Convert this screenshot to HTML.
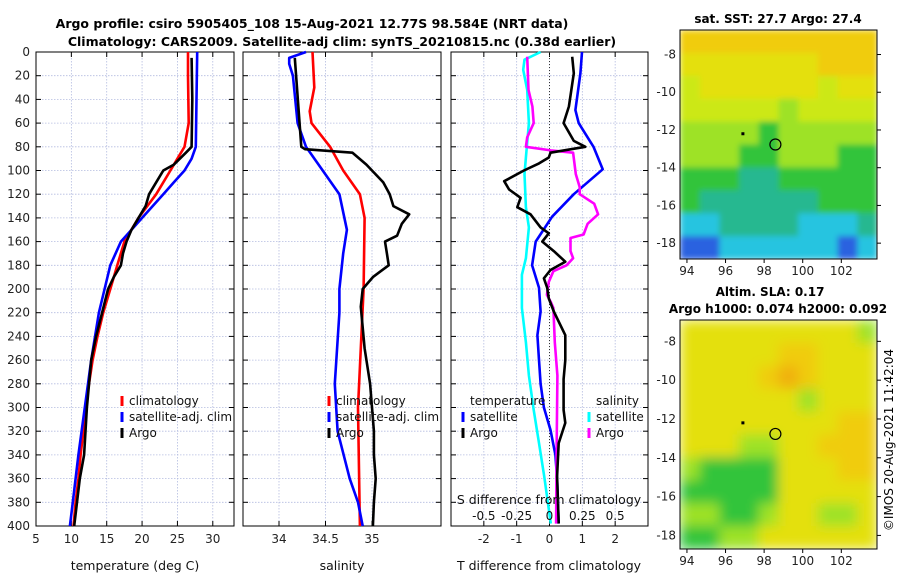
<!DOCTYPE html>
<html><head><meta charset="utf-8">
<style>
html,body{margin:0;padding:0;background:#fff;}
svg{display:block;font-family:"DejaVu Sans","Liberation Sans",sans-serif;}
</style></head>
<body>
<svg id="fig" width="900" height="580" viewBox="0 0 900 580" xmlns="http://www.w3.org/2000/svg">
<defs>
<filter id="blur" x="0" y="0" width="1" height="1"><feGaussianBlur stdDeviation="6"/></filter>
<filter id="blur2" x="0" y="0" width="1" height="1"><feGaussianBlur stdDeviation="3"/></filter>
<clipPath id="clipSst"><rect x="680" y="30" width="197" height="229"/></clipPath>
<clipPath id="clipSla"><rect x="680" y="320" width="197" height="229"/></clipPath>
</defs>
<text x="312" y="28" font-size="12.5" font-weight="bold" text-anchor="middle">Argo profile: csiro 5905405_108 15-Aug-2021 12.77S 98.584E (NRT data)</text>
<text x="342" y="46" font-size="12.5" font-weight="bold" text-anchor="middle">Climatology: CARS2009. Satellite-adj clim: synTS_20210815.nc (0.38d earlier)</text>
<text x="778" y="23" font-size="12" font-weight="bold" text-anchor="middle">sat. SST: 27.7 Argo: 27.4</text>
<text x="770" y="296" font-size="12" font-weight="bold" text-anchor="middle">Altim. SLA: 0.17</text>
<text x="778" y="313" font-size="12" font-weight="bold" text-anchor="middle">Argo h1000: 0.074 h2000: 0.092</text>
<text transform="translate(893,440) rotate(-90)" font-size="12" text-anchor="middle">©IMOS 20-Aug-2021 11:42:04</text>
<g id="layer"></g>
</svg>
<script>
// ---- depth axis ----
const depthTicks = [0,20,40,60,80,100,120,140,160,180,200,220,240,260,280,300,320,340,360,380,400];
// ---- panel 1: temperature ----
const tempTicks = [5,10,15,20,25,30];
const tClimDepth = [0,20,60,80,90,100,120,140,160,180,200,220,240,260,280,300,320,340,360,380,400];
const tClimVal   = [26.5,26.5,26.6,26.0,25.0,24.0,22.0,19.5,17.5,16.5,15.5,14.5,13.7,13.0,12.5,12.0,11.7,11.3,11.0,10.6,10.3];
const tSatDepth = [0,40,80,90,100,110,120,140,160,180,200,220,260,300,340,380,400];
const tSatVal   = [27.8,27.7,27.6,27.0,26.0,24.5,23.0,20.0,17.0,15.5,14.7,13.9,12.8,11.9,11.0,10.2,9.8];
const tArgoDepth = [5,40,80,85,95,100,110,120,130,140,150,160,170,180,190,200,240,260,300,340,360,400];
const tArgoVal   = [27.0,27.1,27.0,26.2,24.5,23.0,22.0,21.0,20.5,19.5,18.5,17.8,17.3,17.0,16.0,15.2,13.5,12.8,12.2,11.8,11.2,10.4];
// ---- panel 2: salinity ----
const salTicks = [34,34.5,35];
const sClimDepth = [0,30,50,60,80,100,120,140,200,300,400];
const sClimVal   = [34.36,34.38,34.33,34.35,34.55,34.69,34.87,34.92,34.91,34.85,34.87];
const sSatDepth = [0,5,10,20,60,80,100,120,150,170,200,220,280,320,360,380,400];
const sSatVal   = [34.29,34.11,34.11,34.15,34.2,34.29,34.47,34.65,34.73,34.69,34.65,34.65,34.6,34.63,34.76,34.85,34.9];
const sArgoDepth = [5,80,82,85,95,110,120,130,137,145,155,160,170,180,190,200,215,250,280,300,320,340,360,380,400];
const sArgoVal   = [34.17,34.24,34.28,34.79,34.94,35.12,35.19,35.23,35.4,35.32,35.27,35.14,35.16,35.18,35.01,34.9,34.88,34.92,34.98,35.0,35.02,35.02,35.04,35.02,35.01];
// ---- panel 3: differences ----
const tDiffTicks = [-2,-1,0,1,2];
const sDiffTicks = [-0.5,-0.25,0,0.25,0.5];
const sDiffTickLabels = ["-0.5","-0.25","0","0.25","0.5"];
const dTSatDepth = [0,18,49,60,80,99,120,139,160,180,199,219,239,260,280,300,319,340,360,398];
const dTSatVal   = [0.99,0.94,0.79,0.89,1.34,1.62,0.74,0.08,-0.42,-0.53,-0.32,-0.27,-0.37,-0.32,-0.27,-0.17,0.03,0.18,0.23,0.28];
const dTArgoDepth = [4,18,46,60,75,80,85,89,94,100,109,116,123,131,137,148,153,160,168,177,184,191,199,208,219,239,260,276,302,313,330,358,398];
const dTArgoVal   = [0.69,0.74,0.59,0.43,0.74,1.09,0.03,-0.02,-0.32,-0.78,-1.38,-1.23,-0.88,-0.98,-0.58,-0.27,-0.02,-0.22,0.13,0.48,0.03,-0.17,-0.07,-0.02,0.13,0.48,0.48,0.43,0.43,0.48,0.28,0.23,0.28];
const dSSatDepth = [0,6.5,15,32,60,89,103,131,148,174,188,216,245,273,302,330,358,398];
const dSSatVal   = [-0.068,-0.19,-0.2,-0.17,-0.157,-0.18,-0.19,-0.18,-0.157,-0.18,-0.21,-0.21,-0.18,-0.157,-0.12,-0.08,-0.04,0.01];
const dSArgoDepth = [4,32,46,60,72,80,83,85,103,114,120,128,137,145,154,157,168,174,180,185,194,205,211,216,245,273,330,398];
const dSArgoVal   = [-0.17,-0.16,-0.13,-0.12,-0.17,-0.18,0.01,0.18,0.2,0.23,0.23,0.34,0.37,0.29,0.26,0.16,0.16,0.18,0.13,0.03,-0.005,-0.02,0.01,0.03,0.04,0.06,0.055,0.05];
// ---- maps ----
const lonTicks = [94,96,98,100,102];
const latTicks = [-8,-10,-12,-14,-16,-18];
const sstGrid = [
 "oooooooooo",
 "yyyyyyyooo",
 "YyyyyyyYyy",
 "YYYYYLYYYY",
 "LLLLGLLLLL",
 "LLLGGLLLGG",
 "GGGTTGGGGG",
 "GTTTTTTGGG",
 "CCTTTTCCCT",
 "BBCCCCCCBC"];
const slaGrid = [
 "yyyyyyyyyL",
 "yyyyyooyyy",
 "yyyyoOoyyy",
 "yyyyyyLyyy",
 "yyyyyyyyoo",
 "yyyLLyyooo",
 "LGGGGyyyoo",
 "GGGGGyyyyy",
 "LLGGLyyLLy",
 "GGLLyyyyyy"];
const floatLon = 98.584, floatLat = -12.77;
const prevLon = 96.9, prevLat = -12.2;

const NS="http://www.w3.org/2000/svg";
const layer=document.getElementById('layer');
function mk(tag,attrs,parent){const e=document.createElementNS(NS,tag);for(const k in attrs)e.setAttribute(k,attrs[k]);(parent||layer).appendChild(e);return e;}

const Y0=52, Y1=526;
const yD = d => Y0 + d*(Y1-Y0)/400;

function panel(x0,x1,xmin,xmax){
  return v => x0 + (v-xmin)*(x1-x0)/(xmax-xmin);
}
function frame(x0,x1,name,xTicks,sx,labels){
  const g=mk('g',{});
  
  
  depthTicks.forEach(d=>{
    const l=mk('line',{x1:x0,x2:x1,y1:yD(d),y2:yD(d),stroke:'#b4bce0','stroke-width':0.8,'stroke-dasharray':'1.5,1.5'},g);
    
    
    mk('line',{x1:x0,x2:x0+5,y1:yD(d),y2:yD(d),stroke:'#000'},g);
    mk('line',{x1:x1,x2:x1-5,y1:yD(d),y2:yD(d),stroke:'#000'},g);
  });
  xTicks.forEach(v=>{
    const l=mk('line',{x1:sx(v),x2:sx(v),y1:Y0,y2:Y1,stroke:'#b4bce0','stroke-width':0.8,'stroke-dasharray':'1.5,1.5'},g);
    
    
    mk('line',{x1:sx(v),x2:sx(v),y1:Y1,y2:Y1-5,stroke:'#000'},g);
    mk('line',{x1:sx(v),x2:sx(v),y1:Y0,y2:Y0+5,stroke:'#000'},g);
    if(labels){
      const t=mk('text',{x:sx(v),y:Y1+17,'font-size':12,'text-anchor':'middle',fill:'#222'},g);
      t.textContent=String(v);
      
      
    }
  });
  mk('rect',{x:x0,y:Y0,width:x1-x0,height:Y1-Y0,fill:'none',stroke:'#000','stroke-width':1},g);
}
function line(depths,vals,sx,color,name){
  const pts=depths.map((d,i)=>sx(vals[i]).toFixed(1)+','+yD(d).toFixed(1)).join(' ');
  const p=mk('polyline',{points:pts,fill:'none',stroke:color,'stroke-width':2.6,'stroke-linejoin':'round'});
  
  
}
function txt(x,y,s,name,opt,parent){
  const t=mk('text',Object.assign({x:x,y:y,'font-size':12,fill:'#111'},opt||{}),parent);
  t.textContent=s;
  
  
  return t;
}
function legendEntry(x,y,color,label,name){
  mk('line',{x1:x,x2:x,y1:y-9,y2:y+1,stroke:color,'stroke-width':3});
  txt(x+7,y,label,name);
}

depthTicks.forEach(d=>{txt(30,yD(d)+4,String(d),'depth-tick-label',{'text-anchor':'end','font-size':12,fill:'#222'});});

// panel 1
const sx1=panel(36,234,5,33);
frame(36,234,'temperature-panel',tempTicks,sx1,true);
line(tClimDepth,tClimVal,sx1,'#ff0000','temp-climatology-line');
line(tSatDepth,tSatVal,sx1,'#0000ff','temp-satellite-line');
line(tArgoDepth,tArgoVal,sx1,'#000000','temp-argo-line');
txt(135,570,'temperature (deg C)','temperature-axis-title',{'text-anchor':'middle','font-size':12.5});
legendEntry(122,405,'#ff0000','climatology','legend-climatology');
legendEntry(122,421,'#0000ff','satellite-adj. clim','legend-satellite');
legendEntry(122,437,'#000000','Argo','legend-argo');

// panel 2
const sx2=panel(243,441,33.613,35.742);
frame(243,441,'salinity-panel',salTicks,sx2,true);
line(sClimDepth,sClimVal,sx2,'#ff0000','sal-climatology-line');
line(sSatDepth,sSatVal,sx2,'#0000ff','sal-satellite-line');
line(sArgoDepth,sArgoVal,sx2,'#000000','sal-argo-line');
txt(342,570,'salinity','salinity-axis-title',{'text-anchor':'middle','font-size':12.5});
legendEntry(329,405,'#ff0000','climatology','legend-climatology-2');
legendEntry(329,421,'#0000ff','satellite-adj. clim','legend-satellite-2');
legendEntry(329,437,'#000000','Argo','legend-argo-2');

// panel 3
const sx3=panel(451,648,-3,3);
const sxS=panel(451,648,-0.75,0.75);
frame(451,648,'difference-panel',tDiffTicks,sx3,true);
const zl=mk('line',{x1:sx3(0),x2:sx3(0),y1:Y0,y2:Y1,stroke:'#333','stroke-width':1,'stroke-dasharray':'1,2'});


line(dSSatDepth,dSSatVal,sxS,'#00ffff','sal-diff-satellite-line');
line(dTSatDepth,dTSatVal,sx3,'#0000ff','temp-diff-satellite-line');
line(dSArgoDepth,dSArgoVal,sxS,'#ff00ff','sal-diff-argo-line');
line(dTArgoDepth,dTArgoVal,sx3,'#000000','temp-diff-argo-line');
txt(549,570,'T difference from climatology','t-diff-axis-title',{'text-anchor':'middle','font-size':12.5});
txt(549,504,'S difference from climatology','s-diff-axis-title',{'text-anchor':'middle','font-size':12.5});
sDiffTicks.forEach((v,i)=>{txt(sxS(v),520,sDiffTickLabels[i],'s-diff-tick-label',{'text-anchor':'middle','font-size':12});});
txt(470,405,'temperature','legend-temperature-header');
legendEntry(463,421,'#0000ff','satellite','legend-temp-satellite');
legendEntry(463,437,'#000000','Argo','legend-temp-argo');
txt(596,405,'salinity','legend-salinity-header');
legendEntry(589,421,'#00ffff','satellite','legend-sal-satellite');
legendEntry(589,437,'#ff00ff','Argo','legend-sal-argo');

// maps
const colors={o:'#f0cc10',y:'#e4e010',Y:'#cce818',L:'#9ee228',G:'#30c43a',T:'#26b890',C:'#26c4e0',B:'#2a62e0',O:'#f0b010'};
function map(x0,x1,yTop,yBot,latTop,latBot,grid,name,clip,filt){
  const lonMin=93.64, lonMax=103.85;
  const sx=v=>x0+(v-lonMin)*(x1-x0)/(lonMax-lonMin);
  const sy=v=>yTop+(latTop-v)*(yBot-yTop)/(latTop-latBot);
  const g=mk('g',{});
  
  
  const cg=mk('g',{'clip-path':'url(#'+clip+')'},g);
  const bg=mk('g',{filter:'url(#'+filt+')'},cg);
  const rows=grid.length, cols=grid[0].length;
  const cw=(x1-x0)/cols, ch=(yBot-yTop)/rows;
  for(let r=0;r<rows;r++)for(let c=0;c<cols;c++){
    const cell=mk('rect',{x:x0+c*cw,y:yTop+r*ch,width:cw+0.5,height:ch+0.5,fill:colors[grid[r][c]]},bg);
    
    
  }
  mk('rect',{x:x0,y:yTop,width:x1-x0,height:yBot-yTop,fill:'none',stroke:'#000'},g);
  lonTicks.forEach(v=>{
    mk('line',{x1:sx(v),x2:sx(v),y1:yBot,y2:yBot+4,stroke:'#000'},g);
    txt(sx(v),yBot+16,String(v),'lon-tick-label',{'text-anchor':'middle','font-size':12,fill:'#222'},g);
  });
  latTicks.forEach(v=>{
    mk('line',{x1:x1,x2:x1+4,y1:sy(v),y2:sy(v),stroke:'#000'},g);
    txt(x0-4,sy(v)+4,String(v),'lat-tick-label',{'text-anchor':'end','font-size':12,fill:'#222'},g);
  });
  mk('rect',{x:sx(prevLon)-1.5,y:sy(prevLat)-1.5,width:3,height:3,fill:'#000'},g);
  const c=mk('circle',{cx:sx(floatLon),cy:sy(floatLat),r:5.5,fill:'none',stroke:'#000','stroke-width':1.2},g);
  
  
}
map(680,877,30,259,-6.7,-18.84,sstGrid,'sst-map','clipSst','blur2');
map(680,877,320,549,-6.9,-18.7,slaGrid,'sla-map','clipSla','blur');
</script>
</body></html>
